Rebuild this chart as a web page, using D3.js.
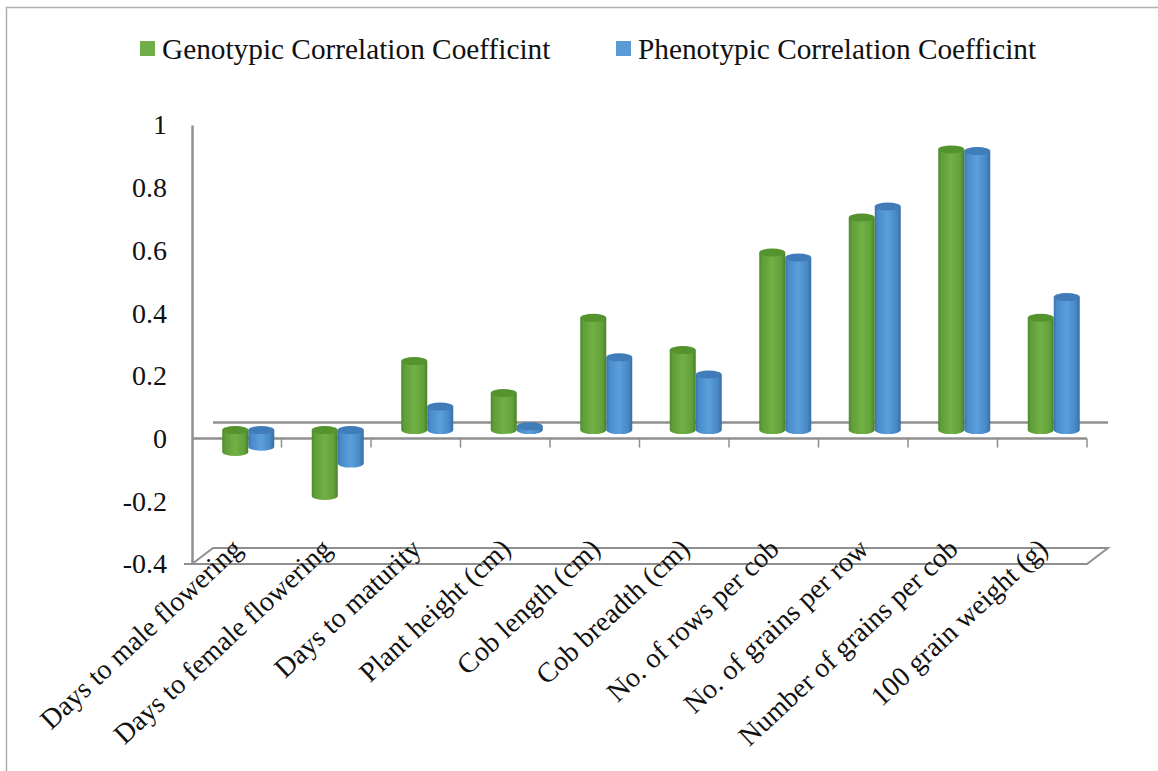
<!DOCTYPE html>
<html><head><meta charset="utf-8">
<script src="https://cdn.jsdelivr.net/npm/d3@7/dist/d3.min.js"></script>
<style>html,body{margin:0;padding:0;background:#fff}svg{display:block}text{font-family:"Liberation Serif",serif;fill:#111}</style>
</head><body><svg id="c" width="1158" height="771"></svg>
<script>
const categories = ["Days to male flowering","Days to female flowering","Days to maturity","Plant height (cm)","Cob length (cm)","Cob breadth (cm)","No. of rows per cob","No. of grains per row","Number of grains per cob","100 grain weight (g)"];
const genotypic = [-0.07,-0.21,0.22,0.118,0.358,0.255,0.566,0.678,0.895,0.358];
const phenotypic = [-0.053,-0.107,0.075,0.012,0.232,0.177,0.55,0.713,0.89,0.424];
const yTicks = [-0.4,-0.2,0,0.2,0.4,0.6,0.8,1];
const seriesNames = ["Genotypic Correlation Coefficint","Phenotypic Correlation Coefficint"];

const svg = d3.select("#c");
const W=1158,H=771;
const x = d3.scaleBand().domain(categories).range([192,1087]);
const y = d3.scaleLinear().domain([-0.4,1]).range([564,125]);
const backDx=21, backDy=-16, midDx=11.5, midDy=-8.5;
const axisCol="#8f8f8f";

svg.append("rect").attr("width",W).attr("height",H).attr("fill","#fff");
svg.append("path").attr("d","M6.5,771V7.5H1158").attr("fill","none").attr("stroke","#b0b0b0").attr("stroke-width",1.5);

const defs=svg.append("defs");
function grad(id,stops){
  const g=defs.append("linearGradient").attr("id",id).attr("x1",0).attr("x2",1).attr("y1",0).attr("y2",0);
  stops.forEach(s=>g.append("stop").attr("offset",s[0]).attr("stop-color",s[1]));
}
grad("gG",[[0,"#4d8a2c"],[0.12,"#5f9e38"],[0.5,"#72b145"],[0.85,"#62a03a"],[1,"#4a8029"]]);
grad("gB",[[0,"#3a74ad"],[0.12,"#4a8ccb"],[0.5,"#5b9fdd"],[0.85,"#4787c4"],[1,"#386ea5"]]);

const x0=x.range()[0],x1=x.range()[1],yF=y(-0.4),y0=y(0);
svg.append("path").attr("d",`M${x0},${yF}L${x0+backDx},${yF+backDy}H${x1+backDx}L${x1},${yF}Z`)
  .attr("fill","none").attr("stroke",axisCol).attr("stroke-width",2);
svg.append("line").attr("x1",x0+backDx).attr("x2",x1+backDx).attr("y1",y0+backDy).attr("y2",y0+backDy)
  .attr("stroke",axisCol).attr("stroke-width",2.5);

const yAxis=d3.axisLeft(y).tickValues(yTicks).tickSize(0).tickPadding(25).tickFormat(d=>String(d));
const gy=svg.append("g").attr("transform",`translate(${x0},0)`).call(yAxis);
gy.select(".domain").attr("stroke",axisCol).attr("stroke-width",2.5);
gy.selectAll("text").attr("font-size",28).style("font-family",'"Liberation Serif",serif').attr("fill","#111");
svg.append("line").attr("x1",x0-8).attr("x2",x0).attr("y1",yF).attr("y2",yF).attr("stroke",axisCol).attr("stroke-width",2);

const gx=svg.append("g");
gx.append("line").attr("x1",x0).attr("x2",x1).attr("y1",y0).attr("y2",y0).attr("stroke",axisCol).attr("stroke-width",2.5);
gx.selectAll("line.t").data(categories).join("line").attr("class","t")
  .attr("x1",d=>x(d)+x.step()).attr("x2",d=>x(d)+x.step())
  .attr("y1",y0).attr("y2",y0+9).attr("stroke",axisCol).attr("stroke-width",1.5);

const bw=26, ry=4;
function cyl(g,cx,v,fill,top){
  const rx=bw/2, yBase=y(0)+midDy, yV=y(v)+midDy;
  const a=Math.min(yBase,yV), b=Math.max(yBase,yV);
  g.append("path").attr("d",`M${cx-rx},${a}V${b}A${rx},${ry} 0 0 0 ${cx+rx},${b}V${a}Z`).attr("fill",`url(#${fill})`);
  g.append("ellipse").attr("cx",cx).attr("cy",a).attr("rx",rx).attr("ry",ry).attr("fill",top);
}
const gb=svg.append("g");
categories.forEach((c,i)=>{
  const m=x(c)+x.step()/2+midDx;
  cyl(gb,m+bw/2,phenotypic[i],"gB","#3f7cb8");
  cyl(gb,m-bw/2,genotypic[i],"gG","#55932f");
});

svg.append("g").selectAll("text").data(categories).join("text")
  .attr("text-anchor","end").attr("font-size",28)
  .attr("transform",d=>`translate(${x(d)+x.step()/2+7},551) rotate(-43)`)
  .text(d=>d);

const lg=svg.append("g");
[[140,"#70ad47"],[616,"#5b9bd5"]].forEach((l,i)=>{
  lg.append("rect").attr("x",l[0]).attr("y",41).attr("width",15).attr("height",15).attr("fill",l[1]);
  lg.append("text").attr("x",l[0]+22).attr("y",59).attr("font-size",29.3).text(seriesNames[i]);
});
</script></body></html>
